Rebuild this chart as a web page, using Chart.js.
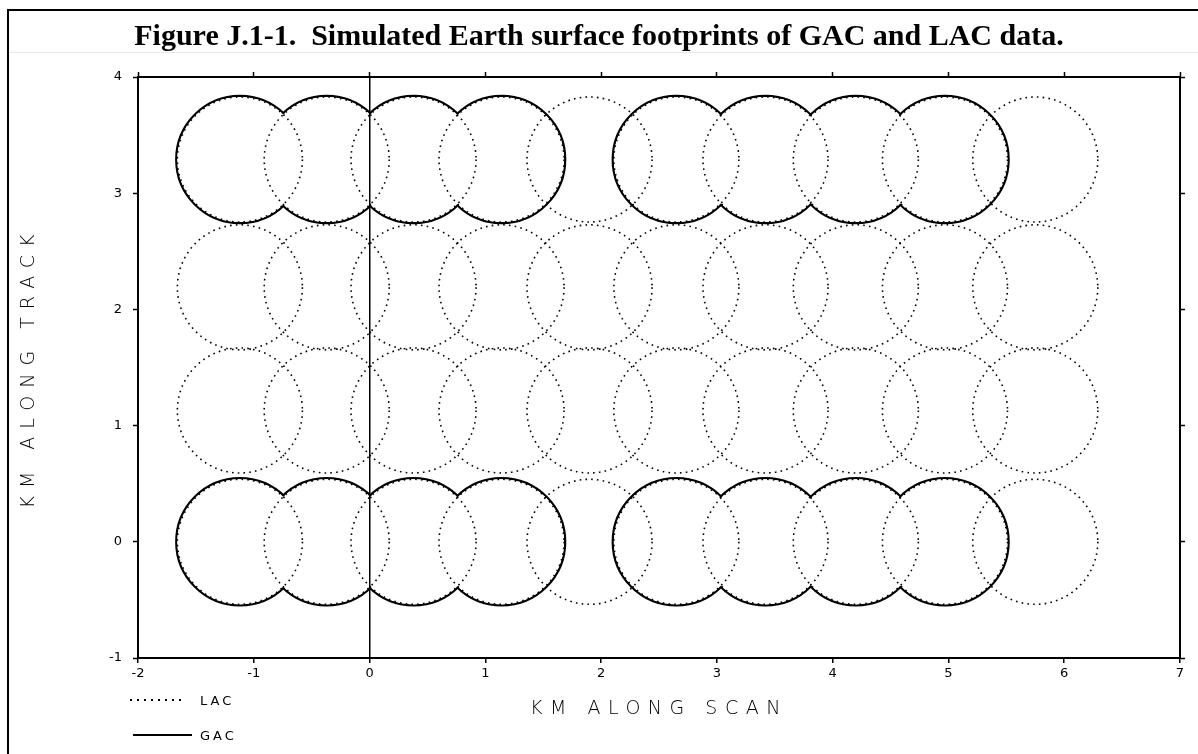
<!DOCTYPE html>
<html>
<head>
<meta charset="utf-8">
<title>Figure J.1-1</title>
<script src="https://cdn.jsdelivr.net/npm/chart.js@4.4.1/dist/chart.umd.min.js"></script>
<style>
  html, body { margin: 0; padding: 0; background: #fff; }
  body { width: 1198px; height: 754px; position: relative; overflow: hidden; font-family: "DejaVu Sans", sans-serif; }
  #chartBox { position: absolute; left: 0; top: 0; width: 1198px; height: 754px; }
  #frame { position: absolute; left: 7px; top: 9px; right: 0; bottom: 0; border-left: 2px solid #000; border-top: 2px solid #000; pointer-events: none; }
  #title { position: absolute; left: 0; top: 18px; width: 1198px; text-align: center; font: bold 30px/33px "Liberation Serif", "Times New Roman", serif; color: #000; white-space: pre; }
  #rule { position: absolute; left: 9px; right: 0; top: 52px; height: 1px; background: #e8e8e8; }
  .key { position: absolute; left: 130px; height: 20px; display: flex; align-items: center; font-size: 13px; letter-spacing: 3px; color: #000; }
  .key .dots { width: 53px; height: 2px; margin-right: 17px; background-image: linear-gradient(to right, #000 2px, transparent 2px); background-size: 7px 2px; }
  .key .solid { width: 59px; height: 2px; margin-left: 3px; margin-right: 8px; background: #000; }
</style>
</head>
<body>
<div id="chartBox"><canvas id="footprints"></canvas></div>
<div id="frame"></div>
<div id="title">Figure J.1-1.  Simulated Earth surface footprints of GAC and LAC data.</div>
<div id="rule"></div>
<div class="key" style="top:690px"><span class="dots"></span>LAC</div>
<div class="key" style="top:725px"><span class="solid"></span>GAC</div>

<script>
'use strict';

// footprint centres (km)
const lacAlongScan = [-1.12, -0.37, 0.38, 1.14, 1.90, 2.65, 3.42, 4.20, 4.97, 5.75];
const lacAlongTrack = [0, 1.13, 2.19, 3.29];
const gacAlongScan = [-1.12, -0.37, 0.38, 1.14, 2.65, 3.42, 4.20, 4.97];
const gacAlongTrack = [0, 3.29];
const lacRadius = 0.54;
const gacRadius = 0.55;

// axis ranges
const scanTicks = [-2, -1, 0, 1, 2, 3, 4, 5, 6, 7];
const trackTicks = [-1, 0, 1, 2, 3, 4];

function footprints(scanList, trackList) {
  let pts = [];
  for (let i = 0; i < trackList.length; i++) {
    for (let j = 0; j < scanList.length; j++) {
      pts.push({ x: scanList[j], y: trackList[i] });
    }
  }
  return pts;
}

// turn a radius in km into pixels with the x scale
function kmToPixels(context, km) {
  const scale = context.chart.scales.x;
  if (!scale) return 0;
  const px = Math.abs(scale.getPixelForValue(km) - scale.getPixelForValue(0));
  return isFinite(px) ? px : 0;
}

// points have no dash option, so set it around each dataset
const dashPlugin = {
  id: 'dashPlugin',
  beforeDatasetDraw(chart, args) {
    const ds = chart.data.datasets[args.index];
    chart.ctx.save();
    chart.ctx.setLineDash(ds.dotPattern || []);
  },
  afterDatasetDraw(chart) {
    chart.ctx.restore();
  }
};

// wide letter spacing for the axis titles
const titleSpacing = { x: '7.5px', y: '8px' };
const spacedTitles = {
  id: 'spacedTitles',
  afterLayout(chart) {
    Object.keys(titleSpacing).forEach(id => {
      const scale = chart.scales[id];
      if (scale && !scale.spaced) {
        const draw = scale.drawTitle.bind(scale);
        scale.drawTitle = function () {
          chart.ctx.save();
          chart.ctx.letterSpacing = titleSpacing[id];
          draw();
          chart.ctx.restore();
        };
        scale.spaced = true;
      }
    });
  }
};

const tickFont = { family: 'DejaVu Sans', size: 13 };
const axisTitleFont = { family: 'DejaVu Sans', size: 19, weight: '200' };
const black = '#000';
const clear = 'rgba(0,0,0,0)';

const ctx = document.getElementById('footprints').getContext('2d');
const footprintChart = new Chart(ctx, {
  type: 'scatter',
  data: {
    datasets: [{
      label: 'LAC',
      data: footprints(lacAlongScan, lacAlongTrack),
      pointBorderColor: black,
      pointBackgroundColor: clear,
      pointBorderWidth: 1.6,
      dotPattern: [1.6, 4.2],
      pointRadius: c => kmToPixels(c, lacRadius)
    }, {
      label: 'GAC mask',
      data: footprints(gacAlongScan, gacAlongTrack),
      pointBorderColor: clear,
      pointBackgroundColor: '#fff',
      pointBorderWidth: 0,
      pointRadius: c => Math.max(kmToPixels(c, gacRadius) - 1.2, 0)
    }, {
      label: 'GAC',
      data: footprints(gacAlongScan, gacAlongTrack),
      pointBorderColor: black,
      pointBackgroundColor: clear,
      pointBorderWidth: 2.2,
      pointRadius: c => kmToPixels(c, gacRadius)
    }]
  },
  options: {
    responsive: true,
    maintainAspectRatio: false,
    animation: false,
    events: [],
    layout: {
      autoPadding: false,
      padding: { top: 77, right: 18, bottom: 0, left: 0 }
    },
    plugins: {
      legend: { display: false },
      tooltip: { enabled: false }
    },
    scales: {
      x: {
        type: 'linear',
        position: 'bottom',
        min: scanTicks[0],
        max: scanTicks[scanTicks.length - 1],
        ticks: { stepSize: 1, color: black, font: tickFont, padding: 3, maxRotation: 0 },
        // the x = 0 line sits on top of the footprints
        grid: {
          z: 1,
          color: c => (c.tick && c.tick.value === 0 ? black : clear),
          lineWidth: 1.5,
          tickColor: black,
          tickLength: 5,
          tickWidth: 1.5
        },
        border: { color: black, width: 2, z: 1 },
        title: { display: true, text: 'KM ALONG SCAN', color: black, font: axisTitleFont, padding: { top: 0, bottom: 34 } },
        afterFit: s => { s.height = 96; }
      },
      y: {
        type: 'linear',
        position: 'left',
        min: trackTicks[0],
        max: trackTicks[trackTicks.length - 1],
        ticks: { stepSize: 1, color: black, font: tickFont, padding: 11 },
        grid: { drawOnChartArea: false, tickColor: black, tickLength: 5, tickWidth: 1.5 },
        border: { color: black, width: 2 },
        title: { display: true, text: 'KM ALONG TRACK', color: black, font: axisTitleFont, padding: { top: 18, bottom: 0 } },
        afterFit: s => { s.width = 138; }
      },
      x2: {
        type: 'linear',
        position: 'top',
        min: scanTicks[0],
        max: scanTicks[scanTicks.length - 1],
        ticks: { stepSize: 1, display: false },
        grid: { drawOnChartArea: false, tickColor: black, tickLength: 5, tickWidth: 1.5 },
        border: { color: black, width: 2 },
        afterFit: s => { s.height = 0; }
      },
      y2: {
        type: 'linear',
        position: 'right',
        min: trackTicks[0],
        max: trackTicks[trackTicks.length - 1],
        ticks: { stepSize: 1, display: false },
        grid: { drawOnChartArea: false, tickColor: black, tickLength: 5, tickWidth: 1.5 },
        border: { color: black, width: 2 },
        afterFit: s => { s.width = 0; }
      }
    }
  },
  plugins: [dashPlugin, spacedTitles]
});
</script>
</body>
</html>
